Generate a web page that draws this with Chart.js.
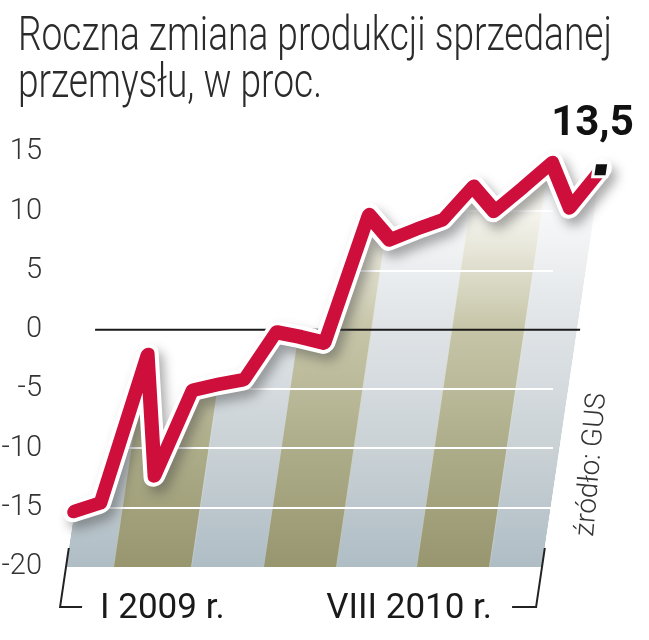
<!DOCTYPE html>
<html><head><meta charset="utf-8">
<script src="https://cdn.jsdelivr.net/npm/chart.js@4.4.0/dist/chart.umd.min.js"></script>
<style>html,body{margin:0;padding:0;background:#fff;}canvas{display:block;}</style>
</head><body>
<canvas id="c" width="649" height="640"></canvas>
<script>
// ---- data ----
const titleLines = ['Roczna zmiana produkcji sprzedanej', 'przemysłu, w proc.'];
const months = ['I 2009','II 2009','III 2009','IV 2009','V 2009','VI 2009','VII 2009','VIII 2009','IX 2009','X 2009','XI 2009','XII 2009',
                'I 2010','II 2010','III 2010','IV 2010','V 2010','VI 2010','VII 2010','VIII 2010'];
const values = [-15.3,-14.6,-2.1,-12.3,-5.1,-4.6,-4.2,-0.2,-0.6,-1.1,9.7,7.6,8.5,9.3,12.1,10.0,12.0,14.1,10.3,13.5];
const yTickValues = [-20,-15,-10,-5,0,5,10,15];
const rangeLabels = ['I 2009 r.', 'VIII 2010 r.'];
const sourceLabel = 'źródło: GUS';

// ---- style ----
const SHEAR = 0.148;
const stripeEdges = [1.9, 5.0, 7.9, 10.8, 14.0, 16.9];
const RED = '#cf0f3b';
const lastIdx = values.length - 1;
const markerData = values.map((v,i)=> i===lastIdx ? v : null);

let bandPattern = null;
function getBand(chart){
  if (bandPattern) return bandPattern;
  const a = chart.chartArea, xs = chart.scales && chart.scales.x;
  if (!a || !xs || !isFinite(xs.getPixelForValue(1))) return 'rgba(0,0,0,0)';
  const c = document.createElement('canvas'); c.width = chart.width; c.height = chart.height;
  const g = c.getContext('2d');
  const mk = (cols)=>{ const gr = g.createLinearGradient(0, a.bottom, 0, a.bottom - 350);
    gr.addColorStop(0, cols[0]); gr.addColorStop(0.33, cols[1]); gr.addColorStop(0.68, cols[2]); gr.addColorStop(1, cols[3]); return gr; };
  const blue = mk(['#afbdc5','#c9d1d5','#dfe3e6','#f6f7f8']);
  const olive = mk(['#97966f','#adac89','#c6c5a8','#f4f3ec']);
  const edges = [0, ...stripeEdges.map(v=>xs.getPixelForValue(v)), c.width];
  for (let i=0;i<edges.length-1;i++){ g.fillStyle = (i%2===0)? blue : olive; g.fillRect(edges[i],0,edges[i+1]-edges[i],c.height); }
  bandPattern = chart.ctx.createPattern(c, 'repeat');
  return bandPattern;
}

const deco = {
  id: 'deco',
  beforeDraw(chart){
    const ctx = chart.ctx; ctx.save();
    ctx.fillStyle = '#2b2b2b'; ctx.font = '300 48px Roboto'; ctx.textBaseline = 'alphabetic'; ctx.textAlign='left';
    const sx = 594 / ctx.measureText(titleLines[0]).width;
    titleLines.forEach((t,i)=>{ ctx.save(); ctx.translate(18, 50 + i*47); ctx.scale(sx,1); ctx.fillText(t,0,0); ctx.restore(); });
    ctx.restore();
  },
  beforeDatasetsDraw(chart){
    const ctx = chart.ctx, a = chart.chartArea;
    ctx.save(); ctx.transform(1,0,-SHEAR,1,SHEAR*a.bottom,0);
  },
  beforeDatasetDraw(chart, args){
    if (args.index === 1){
      const ctx = chart.ctx; ctx.save();
      ctx.shadowColor = 'rgba(70,70,70,0.45)'; ctx.shadowBlur = 11; ctx.shadowOffsetX = 5; ctx.shadowOffsetY = 7;
    }
  },
  afterDatasetDraw(chart, args){
    const ctx = chart.ctx, a = chart.chartArea, y = chart.scales.y;
    if (args.index === 1) ctx.restore();
    if (args.index === 2){
      ctx.save(); ctx.transform(1,0,SHEAR,1,-SHEAR*a.bottom,0);
      ctx.strokeStyle = '#ffffff'; ctx.lineWidth = 2;
      yTickValues.forEach(v=>{ if (v<=-20 || v===0) return;
        const py = Math.round(y.getPixelForValue(v));
        ctx.beginPath(); ctx.moveTo(a.left, py); ctx.lineTo(a.right+11, py); ctx.stroke(); });
      ctx.restore();
      const p0 = y.getPixelForValue(0);
      ctx.save(); ctx.strokeStyle = '#1a1a1a'; ctx.lineWidth = 2;
      ctx.beginPath(); ctx.moveTo(a.left-6, p0); ctx.lineTo(a.right+3, p0); ctx.stroke(); ctx.restore();
    }
  },
  afterDatasetsDraw(chart){
    const ctx = chart.ctx, a = chart.chartArea, xs = chart.scales.x, y = chart.scales.y;
    ctx.restore();
    // brackets (sheared)
    ctx.save(); ctx.transform(1,0,-SHEAR,1,SHEAR*a.bottom,0);
    ctx.strokeStyle = '#222'; ctx.lineWidth = 2;
    const yt = a.bottom - 19, yb = a.bottom + 40;
    ctx.beginPath(); ctx.moveTo(a.left, yt); ctx.lineTo(a.left, yb); ctx.lineTo(a.left+22, yb); ctx.stroke();
    ctx.beginPath(); ctx.moveTo(a.right, yt); ctx.lineTo(a.right, yb); ctx.lineTo(a.right-24, yb); ctx.stroke();
    ctx.restore();
    const lx = a.left - SHEAR*40 + 22, rx = a.right - SHEAR*40 - 24;
    ctx.save(); ctx.fillStyle = '#1a1a1a'; ctx.font = '400 35px Roboto'; ctx.textBaseline = 'alphabetic';
    ctx.textAlign = 'left'; ctx.fillText(rangeLabels[0], lx + 18, a.bottom + 51);
    ctx.textAlign = 'right'; ctx.fillText(rangeLabels[1], rx - 20, a.bottom + 51);
    ctx.restore();
    // last value label
    const u = xs.getPixelForValue(lastIdx), py = y.getPixelForValue(values[lastIdx]);
    const sx = u + SHEAR*(a.bottom - py);
    ctx.save(); ctx.fillStyle = '#111'; ctx.font = '700 42px Roboto'; ctx.textAlign='right'; ctx.textBaseline='alphabetic';
    ctx.fillText(values[lastIdx].toFixed(1).replace('.', ','), sx + 33, py - 35);
    ctx.restore();
    // source
    ctx.save(); ctx.fillStyle = '#333'; ctx.font = '300 28px Roboto'; ctx.textAlign='left'; ctx.textBaseline='alphabetic';
    ctx.translate(a.right + 51, a.bottom - 30); ctx.rotate(-Math.PI/2 + 0.085);
    ctx.fillText(sourceLabel, 0, 0);
    ctx.restore();
  }
};

new Chart(document.getElementById('c'), {
  type: 'line',
  data: {
    labels: months,
    datasets: [
      { data: values, borderColor: RED, borderWidth: 14, pointRadius: 0, fill: false, tension: 0,
        borderJoinStyle: 'round', borderCapStyle: 'round', order: 1, clip: false },
      { data: values, borderColor: '#ffffff', borderWidth: 22, pointRadius: 0, fill: false, tension: 0,
        borderJoinStyle: 'round', borderCapStyle: 'round', order: 2, clip: false },
      { data: values, borderWidth: 0, borderColor: 'rgba(0,0,0,0)', pointRadius: 0, tension: 0,
        fill: 'start', backgroundColor: (c)=>getBand(c.chart), order: 3 },
      { data: markerData, showLine: false, pointStyle: 'rect', pointRadius: 10, pointBackgroundColor: '#111',
        pointBorderColor: '#ffffff', pointBorderWidth: 3, order: 0, clip: false }
    ]
  },
  options: {
    responsive: false, animation: false, devicePixelRatio: 1,
    layout: { padding: { left: 0, right: 107, top: 152, bottom: 73 } },
    plugins: { legend: { display: false }, tooltip: { enabled: false }, title: { display: false } },
    scales: {
      x: { display: false },
      y: {
        min: -20, max: 15,
        afterBuildTicks: (s)=>{ s.ticks = yTickValues.map(v=>({ value: v })); },
        afterFit: (s)=>{ s.width = 66; },
        grid: { display: false, drawTicks: false },
        border: { display: false },
        ticks: { padding: 24, color: '#333', font: { family: 'Roboto', weight: '300', size: 29 } }
      }
    }
  },
  plugins: [deco]
});
</script>
</body></html>
